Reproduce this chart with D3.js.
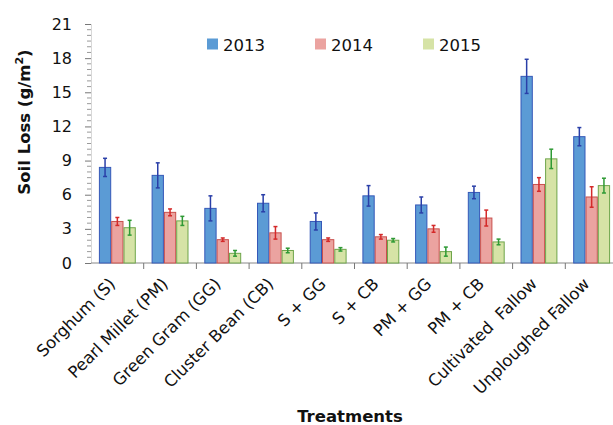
<!DOCTYPE html>
<html><head><meta charset="utf-8">
<script src="https://cdn.jsdelivr.net/npm/d3@7"></script>
<style>body{margin:0;background:#fff}svg{display:block}</style>
</head><body>
<svg id="c" width="613" height="425"></svg>
<script>
const categories = ["Sorghum (S)","Pearl Millet (PM)","Green Gram (GG)","Cluster Bean (CB)","S + GG","S + CB","PM + GG","PM + CB","Cultivated  Fallow","Unploughed Fallow"];
const series = ["2013","2014","2015"];
const values2013 = [8.4, 7.7, 4.8, 5.25, 3.65, 5.9, 5.1, 6.2, 16.4, 11.1];
const values2014 = [3.65, 4.45, 2.05, 2.65, 2.05, 2.3, 3.0, 3.95, 6.9, 5.8];
const values2015 = [3.1, 3.7, 0.85, 1.1, 1.2, 2.0, 1.0, 1.85, 9.15, 6.8];
const err2013 = [0.8, 1.1, 1.1, 0.75, 0.75, 0.9, 0.7, 0.55, 1.5, 0.8];
const err2014 = [0.35, 0.3, 0.15, 0.55, 0.15, 0.2, 0.3, 0.7, 0.6, 0.9];
const err2015 = [0.65, 0.4, 0.25, 0.2, 0.15, 0.15, 0.4, 0.25, 0.85, 0.65];
const yTicks = [0,3,6,9,12,15,18,21];

const fills = ["#5b9bd5","#eba3a0","#d6e3a6"];
const strokes = ["#3558b8","#c9504d","#6ea54a"];
const errCols = ["#2a3fa8","#d42a2a","#2f9a35"];
const vals = [values2013, values2014, values2015];
const errs = [err2013, err2014, err2015];

const svg = d3.select("#c");
const font = "'DejaVu Sans', Verdana, sans-serif";
const x0 = 91, y0 = 263;
const x = d3.scaleBand().domain(categories).range([x0, x0 + 527]).paddingInner(0.3).paddingOuter(0.15);
const xs = d3.scaleBand().domain(series).range([0, x.bandwidth()]);
const y = d3.scaleLinear().domain([0, 21]).range([y0, 24]);

// minor ticks
const minor = d3.range(0, 21.01, 0.5).filter(v => v % 3 !== 0);
svg.append("g").selectAll("line").data(minor).join("line")
  .attr("x1", x0 - 4).attr("x2", x0).attr("y1", d => y(d)).attr("y2", d => y(d))
  .attr("stroke", "#9a9a9a").attr("stroke-width", 1);

// y axis
const ya = svg.append("g").attr("transform", `translate(${x0},0)`)
  .call(d3.axisLeft(y).tickValues(yTicks).tickSize(6).tickPadding(13).tickFormat(d3.format("d")));
ya.select(".domain").attr("stroke", "#d8d8d8");
ya.selectAll(".tick line").attr("stroke", "#777");
ya.selectAll("text").attr("font-family", font).attr("font-size", 16).attr("fill", "#111");

// x axis
svg.append("line").attr("x1", x0).attr("x2", 613).attr("y1", y0).attr("y2", y0).attr("stroke", "#888");
const bounds = categories.map(c => x(c) - x.step() * x.paddingOuter());
svg.append("g").selectAll("line").data(bounds.slice(1)).join("line")
  .attr("x1", d => d).attr("x2", d => d).attr("y1", y0).attr("y2", y0 + 6).attr("stroke", "#777");

// bars
series.forEach((s, si) => {
  const g = svg.append("g");
  g.selectAll("rect").data(categories).join("rect")
    .attr("x", c => x(c) + xs(s) + 0.5)
    .attr("y", (c, i) => y(vals[si][i]))
    .attr("width", xs.bandwidth() - 1)
    .attr("height", (c, i) => y0 - y(vals[si][i]))
    .attr("fill", fills[si]).attr("stroke", strokes[si]).attr("stroke-width", 1);
  const eg = svg.append("g").attr("stroke", errCols[si]).attr("stroke-width", 1.5);
  categories.forEach((c, i) => {
    const cx = x(c) + xs(s) + xs.bandwidth() / 2;
    const v = vals[si][i], e = errs[si][i];
    eg.append("line").attr("x1", cx).attr("x2", cx).attr("y1", y(v + e)).attr("y2", y(v - e));
    eg.append("line").attr("x1", cx - 2).attr("x2", cx + 2).attr("y1", y(v + e)).attr("y2", y(v + e));
    eg.append("line").attr("x1", cx - 2).attr("x2", cx + 2).attr("y1", y(v - e)).attr("y2", y(v - e));
  });
});

// x labels
svg.append("g").selectAll("text").data(categories).join("text")
  .attr("transform", c => `translate(${x(c) + x.bandwidth() / 2 - 1},${y0 + 22}) rotate(-45)`)
  .attr("text-anchor", "end").attr("font-family", font).attr("font-size", 16.5).attr("fill", "#111")
  .style("white-space", "pre")
  .text(c => c);

// axis titles
svg.append("text").attr("transform", "translate(30,122) rotate(-90)").attr("text-anchor", "middle")
  .attr("font-family", font).attr("font-weight", "bold").attr("font-size", 16.5).attr("fill", "#111")
  .html("Soil Loss (g/m<tspan dy='-7' font-size='11'>2</tspan><tspan dy='7'>)</tspan>");
svg.append("text").attr("x", 350).attr("y", 422).attr("text-anchor", "middle")
  .attr("font-family", font).attr("font-weight", "bold").attr("font-size", 16.5).attr("fill", "#111")
  .text("Treatments");

// legend
const lx = [207, 315, 423];
series.forEach((s, si) => {
  svg.append("rect").attr("x", lx[si]).attr("y", 38.5).attr("width", 11).attr("height", 11)
    .attr("fill", fills[si]);
  svg.append("text").attr("x", lx[si] + 16).attr("y", 51).attr("font-family", font)
    .attr("font-size", 16.5).attr("fill", "#111").text(s);
});
</script>
</body></html>
